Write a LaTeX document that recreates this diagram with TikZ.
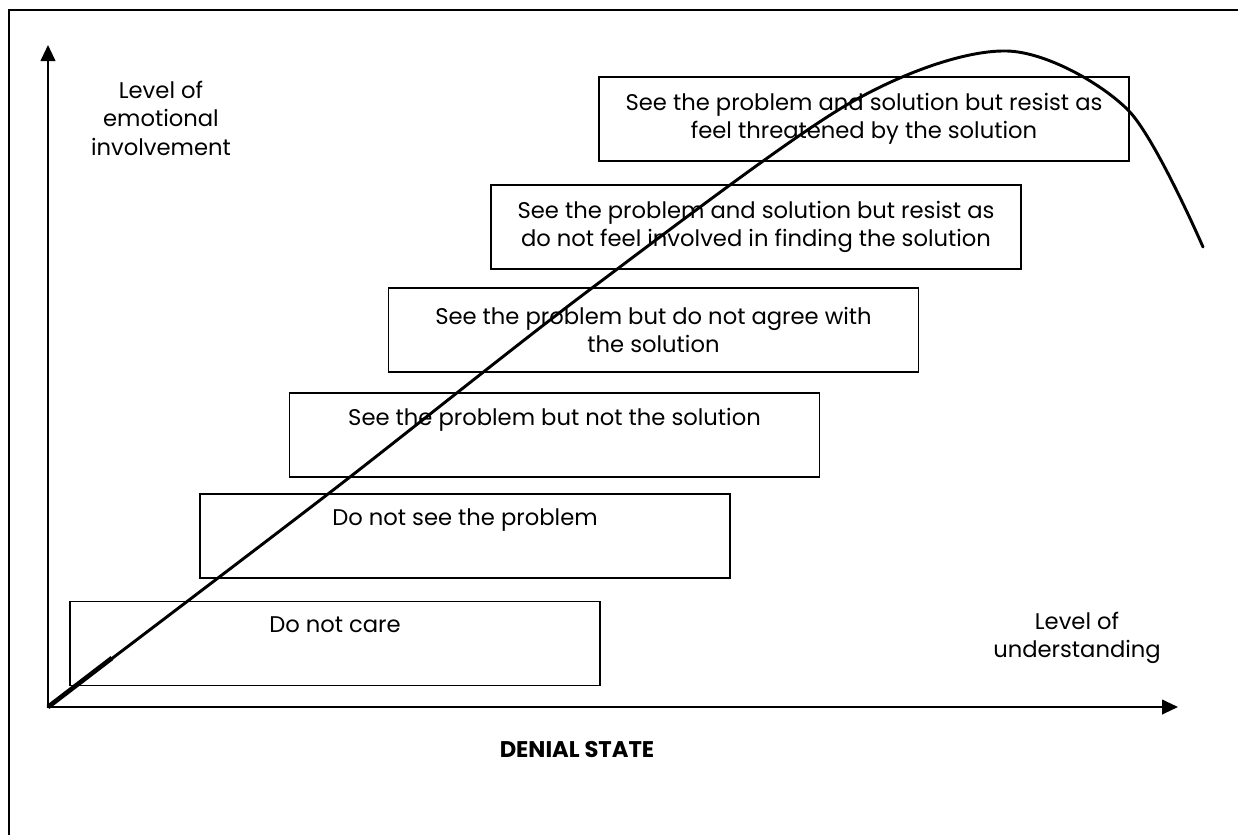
\documentclass[tikz,border=0pt]{standalone}
\usepackage{fontspec}
\setmainfont{Poppins}
\usetikzlibrary{arrows.meta}

\tikzset{
  stage/.style={draw, line width=1pt, minimum width=397.5pt, minimum height=63pt,
    align=center, inner sep=0pt, font=\fontsize{17}{21.4}\selectfont},
  axislabel/.style={align=center, inner sep=0pt, font=\fontsize{17}{21.4}\selectfont},
  axis/.style={line width=1.5pt, -{Triangle[length=12pt,width=11pt]}}
}

\begin{document}
\begin{tikzpicture}[x=0.75pt,y=-0.75pt]
    \useasboundingbox (0,0) rectangle (1238,835);
    % Draw the frame and the axes
    \draw[line width=2pt] (9,835) -- (9,10) -- (1238,10);
    \coordinate (O) at (48,707);
    \coordinate (ytip) at (48,45);
    \coordinate (xtip) at (1178,707);
    \draw[axis] (O) -- (ytip);
    \draw[axis] (O) -- (xtip);

    \node[stage] (care) at (335,643.5) {Do not care\\ \strut};
    \node[stage] (notsee) at (465,536) {Do not see the problem\\ \strut};
    \node[stage] (nosol) at (554.5,435) {See the problem but not the solution\\ \strut};
    \node[stage] (noagree) at (653.5,330) {See the problem but do not agree with\\the solution};
    \node[stage] (noinvolve) at (756,227) {See the problem and solution but resist as\\do not feel involved in finding the solution};
    \node[stage] (threat) at (864,119) {See the problem and solution but resist as\\feel threatened by the solution};

    \node[axislabel] (ylab) at (161,118) {Level of\\emotional\\involvement};
    \node[axislabel] (xlab) at (1077,638) {Level of\\understanding};
    \node[axislabel, font=\fontsize{17}{21.4}\selectfont\bfseries] (denial) at (577,749) {DENIAL STATE};

    % Draw the curve
    \draw[line width=2.2pt, line cap=round] plot[smooth] coordinates {(48,707) (328,494) (592,288) (850,103) (1007,51) (1128,110) (1203,247)};
    \draw[line width=3.5pt] (O) -- (112,658);
\end{tikzpicture}
\end{document}
